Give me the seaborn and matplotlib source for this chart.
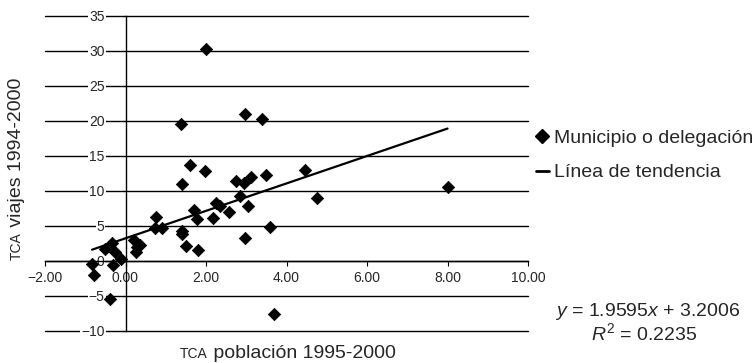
import numpy as np
import pandas as pd
import matplotlib
matplotlib.use("Agg")
import matplotlib.pyplot as plt
import seaborn as sns
from matplotlib.lines import Line2D

# TCA poblacion (x) vs TCA viajes (y), one point per municipio / delegacion
tca_poblacion = [2.01, 1.37, 2.97, 3.39, 1.60, 1.97, 1.40, 2.75, 2.95, 3.13,
                 3.50, 4.45, 4.75, 2.85, 3.04, 2.25, 2.36, 2.56, 2.17, 1.70,
                 1.78, 0.77, 0.73, 0.90, 1.41, 1.41, 1.50, 1.80, 2.96, 3.58,
                 8.00, 3.68, 0.21, 0.29, 0.36, 0.25, -0.33, -0.52, -0.25, -0.12,
                 -0.32, -0.83, -0.79, -0.39]
tca_viajes = [30.3, 19.5, 20.9, 20.3, 13.7, 12.8, 11.0, 11.4, 11.05, 12.0,
              12.3, 12.9, 8.9, 9.2, 7.85, 8.2, 7.8, 7.0, 6.15, 7.2,
              5.95, 6.3, 4.7, 4.7, 4.3, 3.8, 2.15, 1.6, 3.2, 4.75,
              10.5, -7.6, 2.9, 2.0, 2.2, 1.2, 2.5, 1.7, 1.2, 0.3,
              -0.6, -0.4, -2.1, -5.5]

# trend line as printed on the chart
slope = 1.9595
intercept = 3.2006
r2 = 0.2235

x_ticks = [-2, 0, 2, 4, 6, 8, 10]
y_ticks = [-10, -5, 0, 5, 10, 15, 20, 25, 30, 35]

df = pd.DataFrame({"x": tca_poblacion, "y": tca_viajes})
trend = pd.DataFrame({"x": [df.x.min(), df.x.max()]})
trend["y"] = slope * trend.x + intercept

sns.set_style("white")
plt.rcParams["font.family"] = ["Liberation Sans", "DejaVu Sans"]
plt.rcParams["mathtext.fontset"] = "custom"
plt.rcParams["mathtext.rm"] = "Liberation Sans"
plt.rcParams["mathtext.it"] = "Liberation Sans:italic"

W, H = 756, 363
fig = plt.figure(figsize=(W / 100, H / 100), dpi=100)
ax = fig.add_axes([45 / W, (H - 330.7) / H, (528 - 45) / W, (330.7 - 15.7) / H])

sns.scatterplot(data=df, x="x", y="y", marker="D", s=40, color="black",
                edgecolor="black", linewidth=0.5, ax=ax, zorder=1)
sns.lineplot(data=trend, x="x", y="y", color="black", linewidth=1.6, ax=ax)

ax.set_xlim(-2, 10)
ax.set_ylim(-10, 35)
ax.set_xticks(x_ticks)
ax.set_xticklabels([f"{v:.2f}".replace("-", "\u2212") for v in x_ticks])
ax.set_yticks(y_ticks)
ax.set_yticklabels([str(v).replace("-", "\u2212") for v in y_ticks])
ax.set_xlabel("")
ax.set_ylabel("")

for s in ["top", "right"]:
    ax.spines[s].set_visible(False)
ax.spines["left"].set_position(("data", 0))
ax.spines["bottom"].set_position(("data", 0))
for s in ["left", "bottom"]:
    ax.spines[s].set_color("black")
    ax.spines[s].set_linewidth(1.0)

ax.yaxis.grid(True, color="black", linewidth=1.0)
ax.xaxis.grid(False)
for g in ax.get_ygridlines():
    g.set_clip_on(False)
ax.tick_params(axis="x", direction="out", length=3.6, width=0.8, pad=4,
               labelsize=10, color="black", bottom=True)
ax.tick_params(axis="y", direction="out", length=2, width=0.8, pad=13,
               labelsize=10, color="black", left=True)
for t in ax.get_yticklabels():
    t.set_bbox(dict(facecolor="white", edgecolor="none", pad=0.6))

handles = [Line2D([], [], marker="D", linestyle="none", color="black", markersize=7.5),
           Line2D([], [], color="black", linewidth=2)]
fig.legend(handles, ["Municipio o delegación", "Línea de tendencia"],
           loc="upper left", bbox_to_anchor=(536 / W, (H - 129) / H),
           frameon=False, fontsize=14, handlelength=0.65, handletextpad=0.25,
           labelspacing=0.88, borderpad=0, borderaxespad=0)

fig.text(648 / W, (H - 311.7) / H, f"$y$ = {slope}$x$ + {intercept}",
         fontsize=14, ha="center", va="center")
fig.text(644 / W, (H - 333) / H, f"$R^2$ = {r2}",
         fontsize=14, ha="center", va="center")

# axis titles with small-caps style "TCA"
fig.canvas.draw()
r = fig.canvas.get_renderer()
tx = fig.text(180 / W, (H - 358.5) / H, "TCA", fontsize=10, ha="left", va="baseline")
ext = tx.get_window_extent(r)
fig.text(ext.x1 / W, (H - 358.5) / H, " población 1995-2000", fontsize=14,
         ha="left", va="baseline")

ty = fig.text(21 / W, (H - 260) / H, "TCA", fontsize=10, rotation=90,
              rotation_mode="anchor", ha="left", va="baseline")
ext = ty.get_window_extent(r)
fig.text(21 / W, ext.y1 / H, " viajes 1994-2000", fontsize=14, rotation=90,
         rotation_mode="anchor", ha="left", va="baseline")

fig.savefig("out.png", dpi=100)
